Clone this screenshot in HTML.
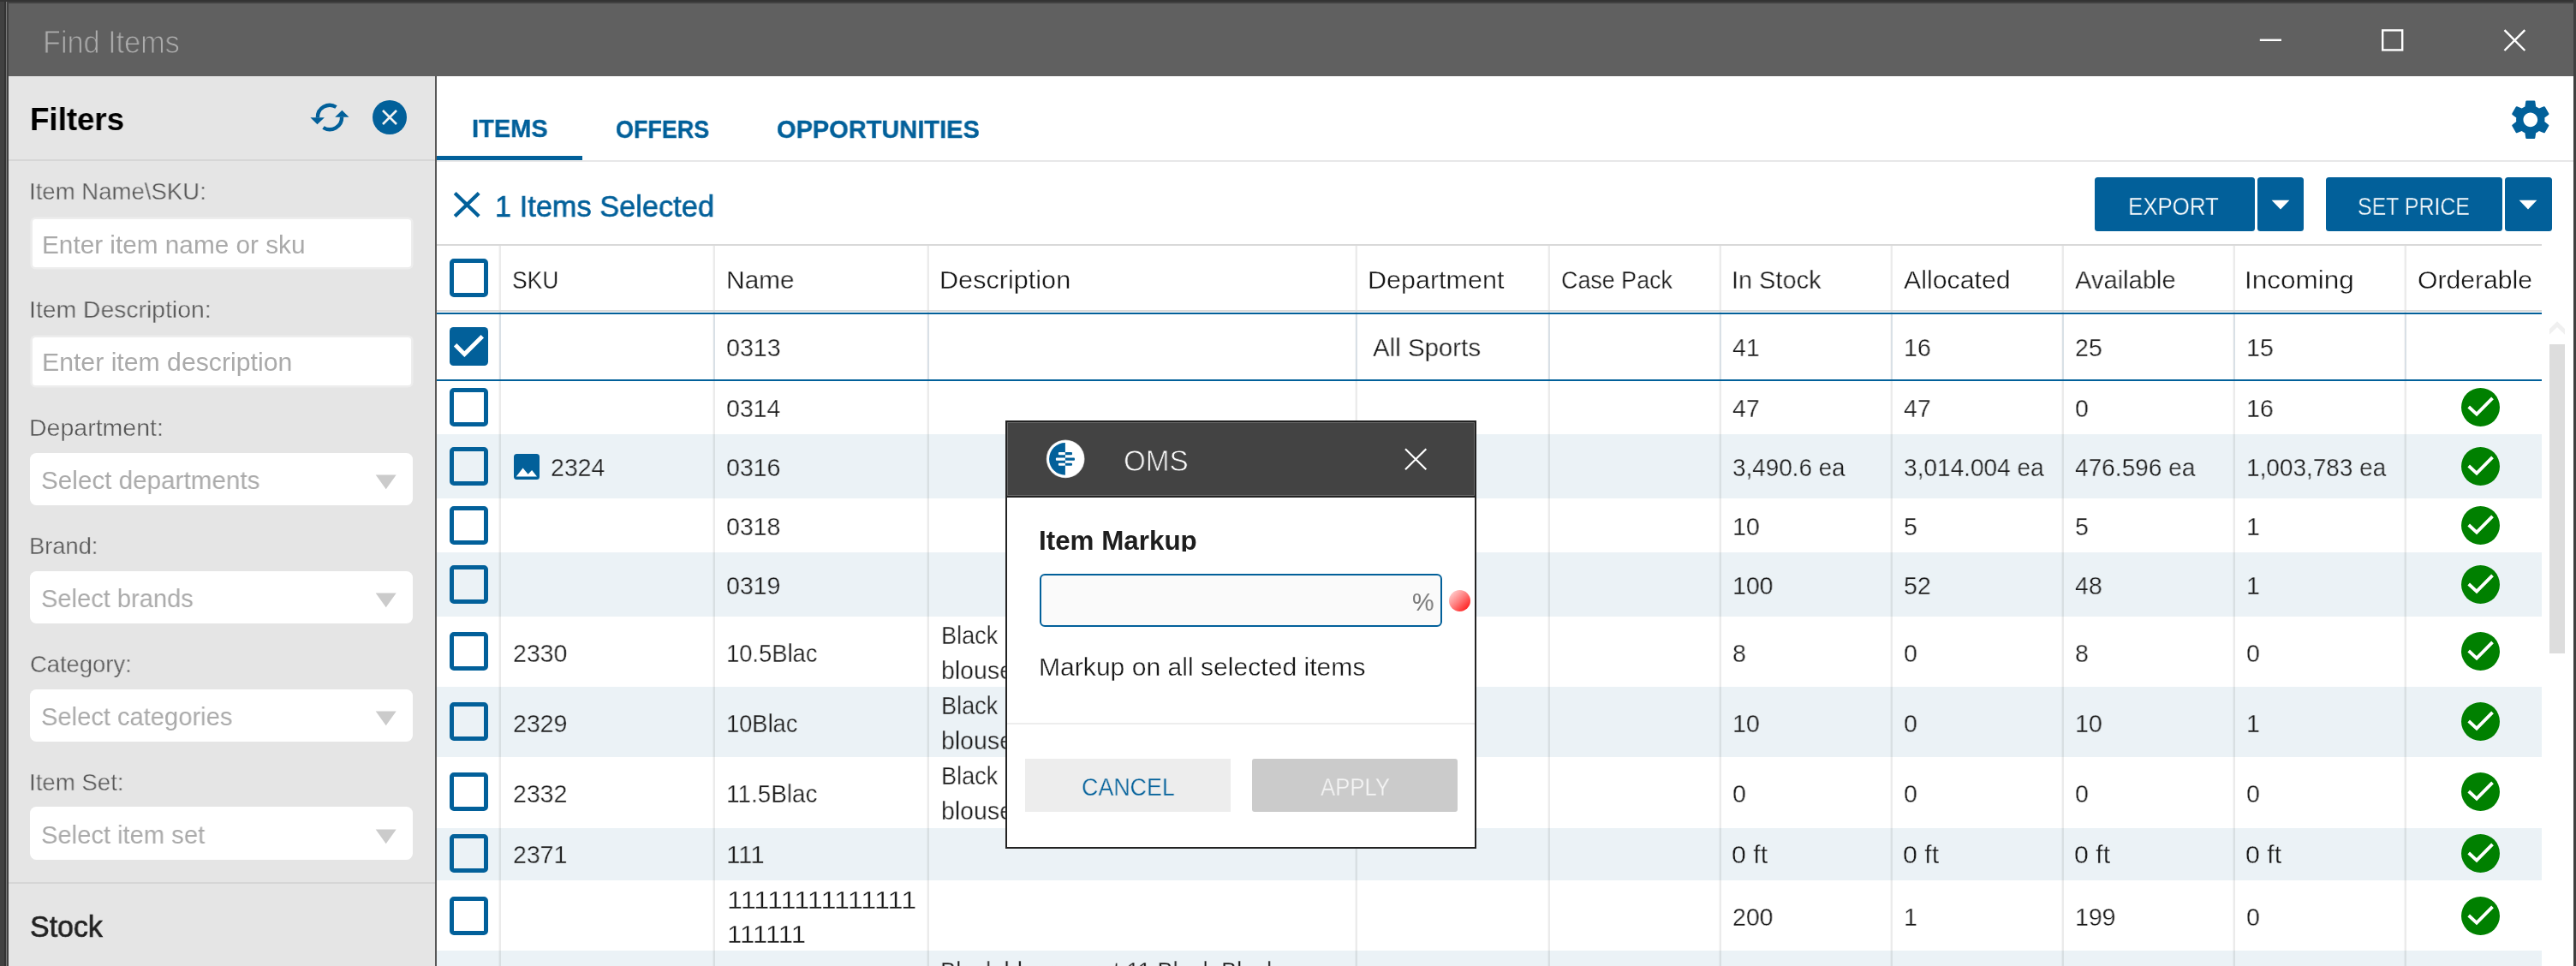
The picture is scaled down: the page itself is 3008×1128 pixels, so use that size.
<!DOCTYPE html>
<html><head><meta charset="utf-8"><title>Find Items</title>
<style>
html,body{margin:0;padding:0}
html{background:#414141}
body{width:3008px;height:1128px;position:relative;overflow:hidden;background:#414141;font-family:"Liberation Sans",sans-serif}
.b{position:absolute;display:block}
.t{position:absolute;white-space:pre;transform-origin:0 0;will-change:transform;font-family:"Liberation Sans",sans-serif}
#w{position:absolute;left:0;top:0;width:3008px;height:1128px;overflow:hidden;background:#414141}
</style></head><body>
<div id="w">
<div class="b" style="left:0.0px;top:0.0px;width:3008.0px;height:2.0px;background:#333;"></div>
<div class="b" style="left:5.0px;top:0.0px;width:2.0px;height:1128.0px;background:#333;"></div>
<div class="b" style="left:7.0px;top:2.0px;width:1.3px;height:1126.0px;background:#7a7a7a;"></div>
<div class="b" style="left:3005.0px;top:0.0px;width:3.0px;height:1128.0px;background:#404040;"></div>
<div class="b" style="left:10.0px;top:4.0px;width:2995.0px;height:85.0px;background:#606060;"></div>
<div class="b" style="left:10.0px;top:89.0px;width:498.0px;height:1039.0px;background:#e5e5e5;"></div>
<div class="b" style="left:508.0px;top:89.0px;width:2.0px;height:1039.0px;background:#585858;"></div>
<div class="b" style="left:510.0px;top:89.0px;width:2495.0px;height:1039.0px;background:#fff;"></div>
<svg class="b" style="left:2630px;top:25px" width="330" height="45" viewBox="2630 25 330 45"><g stroke="#fff" stroke-width="2.4" fill="none"><path d="M2638.8 46.8H2664"/><rect x="2782.2" y="35.4" width="23" height="23"/><path d="M2924.5 35.2L2948.3 59M2948.3 35.2L2924.5 59"/></g></svg>
<div class="b" style="left:10.0px;top:186.0px;width:498.0px;height:2.0px;background:#d6d6d6;"></div>
<div class="b" style="left:10.0px;top:1030.0px;width:498.0px;height:2.0px;background:#d6d6d6;"></div>
<div class="b" style="left:37.6px;top:255.7px;width:442.7px;height:56.6px;background:#fff;border-radius:3.5px;box-shadow:0 0 0 2.6px #ededed;"></div>
<div class="b" style="left:37.6px;top:393.7px;width:442.7px;height:56.6px;background:#fff;border-radius:3.5px;box-shadow:0 0 0 2.6px #ededed;"></div>
<div class="b" style="left:35.0px;top:528.6px;width:447.0px;height:61.9px;background:#fff;border-radius:7.5px;"></div>
<svg class="b" style="left:438px;top:554.0px" width="26" height="18" viewBox="0 0 26 18"><path d="M0.7 0.5H24.7L12.7 17.3Z" fill="#cbcbcb"/></svg>
<div class="b" style="left:35.0px;top:666.6px;width:447.0px;height:61.9px;background:#fff;border-radius:7.5px;"></div>
<svg class="b" style="left:438px;top:692.0px" width="26" height="18" viewBox="0 0 26 18"><path d="M0.7 0.5H24.7L12.7 17.3Z" fill="#cbcbcb"/></svg>
<div class="b" style="left:35.0px;top:804.6px;width:447.0px;height:61.9px;background:#fff;border-radius:7.5px;"></div>
<svg class="b" style="left:438px;top:830.0px" width="26" height="18" viewBox="0 0 26 18"><path d="M0.7 0.5H24.7L12.7 17.3Z" fill="#cbcbcb"/></svg>
<div class="b" style="left:35.0px;top:942.1px;width:447.0px;height:61.9px;background:#fff;border-radius:7.5px;"></div>
<svg class="b" style="left:438px;top:967.5px" width="26" height="18" viewBox="0 0 26 18"><path d="M0.7 0.5H24.7L12.7 17.3Z" fill="#cbcbcb"/></svg>
<svg class="b" style="left:360px;top:116px" width="52" height="42" viewBox="0 0 52 42"><g fill="none" stroke="#02609a" stroke-width="4.4"><path d="M10.9 21.4A14.1 14.1 0 0 1 32.5 9.0"/><path d="M39.1 20.6A14.1 14.1 0 0 1 17.5 33.0"/></g><path d="M2.4 21.2H18.9L10.5 29.3Z M31.2 20.7H47.5L39.4 12.8Z" fill="#02609a"/></svg>
<svg class="b" style="left:435px;top:117px" width="40" height="40" viewBox="0 0 40 40"><circle cx="20" cy="20" r="20" fill="#02609a"/><path d="M12 12L28 28M28 12L12 28" stroke="#f2f2f2" stroke-width="2.6"/></svg>
<div class="b" style="left:510.0px;top:182.0px;width:170.0px;height:5.0px;background:#02609a;"></div>
<div class="b" style="left:510.0px;top:187.0px;width:2495.0px;height:2.0px;background:#e7e7e8;"></div>
<svg class="b" style="left:528px;top:222px" width="34" height="34" viewBox="0 0 34 34"><path d="M3.2 3.4L31.2 30.4M31.2 3.4L3.2 30.4" stroke="#02609a" stroke-width="4.2"/></svg>
<div class="b" style="left:2445.5px;top:207.0px;width:187.5px;height:62.8px;background:#02609a;border-radius:3.5px;"></div>
<div class="b" style="left:2635.5px;top:207.0px;width:54.8px;height:62.8px;background:#02609a;border-radius:3.5px;"></div>
<div class="b" style="left:2715.5px;top:207.0px;width:206.5px;height:62.8px;background:#02609a;border-radius:3.5px;"></div>
<div class="b" style="left:2925.0px;top:207.0px;width:55.0px;height:62.8px;background:#02609a;border-radius:3.5px;"></div>
<svg class="b" style="left:2652.0px;top:233px" width="22" height="12" viewBox="0 0 22 12"><path d="M0.6 0.8H21.4L11 11.4Z" fill="#fff"/></svg>
<svg class="b" style="left:2941.2px;top:233px" width="22" height="12" viewBox="0 0 22 12"><path d="M0.6 0.8H21.4L11 11.4Z" fill="#fff"/></svg>
<svg class="b" style="left:2927.4px;top:111.8px" width="55.6" height="55.6" viewBox="0 0 24 24"><path fill="#02609a" d="M19.14 12.94c.04-.3.06-.61.06-.94 0-.32-.02-.64-.07-.94l2.03-1.58c.18-.14.23-.41.12-.61l-1.92-3.32c-.12-.22-.37-.29-.59-.22l-2.39.96c-.5-.38-1.03-.7-1.62-.94l-.36-2.54c-.04-.24-.24-.41-.48-.41h-3.84c-.24 0-.43.17-.47.41l-.36 2.54c-.59.24-1.13.57-1.62.94l-2.39-.96c-.22-.08-.47 0-.59.22L2.74 8.87c-.12.21-.08.47.12.61l2.03 1.58c-.05.3-.09.63-.09.94s.02.64.07.94l-2.03 1.58c-.18.14-.23.41-.12.61l1.92 3.32c.12.22.37.29.59.22l2.39-.96c.5.38 1.03.7 1.62.94l.36 2.54c.05.24.24.41.48.41h3.84c.24 0 .44-.17.47-.41l.36-2.54c.59-.24 1.13-.56 1.62-.94l2.39.96c.22.08.47 0 .59-.22l1.92-3.32c.12-.22.07-.47-.12-.61l-2.01-1.58zM12 15.6c-1.98 0-3.6-1.62-3.6-3.6s1.62-3.6 3.6-3.6 3.6 1.62 3.6 3.6-1.62 3.6-3.6 3.6z"/></svg>
<div class="b" style="left:510.0px;top:507.0px;width:2457.5px;height:75.0px;background:#ebf2f6;"></div>
<div class="b" style="left:510.0px;top:645.0px;width:2457.5px;height:75.0px;background:#ebf2f6;"></div>
<div class="b" style="left:510.0px;top:802.0px;width:2457.5px;height:82.0px;background:#ebf2f6;"></div>
<div class="b" style="left:510.0px;top:966.5px;width:2457.5px;height:61.0px;background:#ebf2f6;"></div>
<div class="b" style="left:510.0px;top:1110.0px;width:2457.5px;height:18.0px;background:#ebf2f6;"></div>
<div class="b" style="left:510.0px;top:285.0px;width:2457.5px;height:2.0px;background:#d9d9d9;"></div>
<div class="b" style="left:582.0px;top:287.0px;width:1.0px;height:841.0px;background:rgba(0,0,0,0.03);"></div>
<div class="b" style="left:583.0px;top:287.0px;width:2.0px;height:80.0px;background:rgba(0,0,0,0.078);"></div>
<div class="b" style="left:583.0px;top:367.0px;width:2.0px;height:76.0px;background:#d9e0e6;"></div>
<div class="b" style="left:583.0px;top:445.0px;width:2.0px;height:683.0px;background:rgba(0,0,0,0.078);"></div>
<div class="b" style="left:832.0px;top:287.0px;width:1.0px;height:841.0px;background:rgba(0,0,0,0.03);"></div>
<div class="b" style="left:833.0px;top:287.0px;width:2.0px;height:80.0px;background:rgba(0,0,0,0.078);"></div>
<div class="b" style="left:833.0px;top:367.0px;width:2.0px;height:76.0px;background:#d9e0e6;"></div>
<div class="b" style="left:833.0px;top:445.0px;width:2.0px;height:683.0px;background:rgba(0,0,0,0.078);"></div>
<div class="b" style="left:1082.0px;top:287.0px;width:1.0px;height:841.0px;background:rgba(0,0,0,0.03);"></div>
<div class="b" style="left:1083.0px;top:287.0px;width:2.0px;height:80.0px;background:rgba(0,0,0,0.078);"></div>
<div class="b" style="left:1083.0px;top:367.0px;width:2.0px;height:76.0px;background:#d9e0e6;"></div>
<div class="b" style="left:1083.0px;top:445.0px;width:2.0px;height:683.0px;background:rgba(0,0,0,0.078);"></div>
<div class="b" style="left:1582.0px;top:287.0px;width:1.0px;height:841.0px;background:rgba(0,0,0,0.03);"></div>
<div class="b" style="left:1583.0px;top:287.0px;width:2.0px;height:80.0px;background:rgba(0,0,0,0.078);"></div>
<div class="b" style="left:1583.0px;top:367.0px;width:2.0px;height:76.0px;background:#d9e0e6;"></div>
<div class="b" style="left:1583.0px;top:445.0px;width:2.0px;height:683.0px;background:rgba(0,0,0,0.078);"></div>
<div class="b" style="left:1807.0px;top:287.0px;width:1.0px;height:841.0px;background:rgba(0,0,0,0.03);"></div>
<div class="b" style="left:1808.0px;top:287.0px;width:2.0px;height:80.0px;background:rgba(0,0,0,0.078);"></div>
<div class="b" style="left:1808.0px;top:367.0px;width:2.0px;height:76.0px;background:#d9e0e6;"></div>
<div class="b" style="left:1808.0px;top:445.0px;width:2.0px;height:683.0px;background:rgba(0,0,0,0.078);"></div>
<div class="b" style="left:2007.0px;top:287.0px;width:1.0px;height:841.0px;background:rgba(0,0,0,0.03);"></div>
<div class="b" style="left:2008.0px;top:287.0px;width:2.0px;height:80.0px;background:rgba(0,0,0,0.078);"></div>
<div class="b" style="left:2008.0px;top:367.0px;width:2.0px;height:76.0px;background:#d9e0e6;"></div>
<div class="b" style="left:2008.0px;top:445.0px;width:2.0px;height:683.0px;background:rgba(0,0,0,0.078);"></div>
<div class="b" style="left:2207.0px;top:287.0px;width:1.0px;height:841.0px;background:rgba(0,0,0,0.03);"></div>
<div class="b" style="left:2208.0px;top:287.0px;width:2.0px;height:80.0px;background:rgba(0,0,0,0.078);"></div>
<div class="b" style="left:2208.0px;top:367.0px;width:2.0px;height:76.0px;background:#d9e0e6;"></div>
<div class="b" style="left:2208.0px;top:445.0px;width:2.0px;height:683.0px;background:rgba(0,0,0,0.078);"></div>
<div class="b" style="left:2407.0px;top:287.0px;width:1.0px;height:841.0px;background:rgba(0,0,0,0.03);"></div>
<div class="b" style="left:2408.0px;top:287.0px;width:2.0px;height:80.0px;background:rgba(0,0,0,0.078);"></div>
<div class="b" style="left:2408.0px;top:367.0px;width:2.0px;height:76.0px;background:#d9e0e6;"></div>
<div class="b" style="left:2408.0px;top:445.0px;width:2.0px;height:683.0px;background:rgba(0,0,0,0.078);"></div>
<div class="b" style="left:2607.0px;top:287.0px;width:1.0px;height:841.0px;background:rgba(0,0,0,0.03);"></div>
<div class="b" style="left:2608.0px;top:287.0px;width:2.0px;height:80.0px;background:rgba(0,0,0,0.078);"></div>
<div class="b" style="left:2608.0px;top:367.0px;width:2.0px;height:76.0px;background:#d9e0e6;"></div>
<div class="b" style="left:2608.0px;top:445.0px;width:2.0px;height:683.0px;background:rgba(0,0,0,0.078);"></div>
<div class="b" style="left:2807.0px;top:287.0px;width:1.0px;height:841.0px;background:rgba(0,0,0,0.03);"></div>
<div class="b" style="left:2808.0px;top:287.0px;width:2.0px;height:80.0px;background:rgba(0,0,0,0.078);"></div>
<div class="b" style="left:2808.0px;top:367.0px;width:2.0px;height:76.0px;background:#d9e0e6;"></div>
<div class="b" style="left:2808.0px;top:445.0px;width:2.0px;height:683.0px;background:rgba(0,0,0,0.078);"></div>
<div class="b" style="left:510.0px;top:362.0px;width:2457.5px;height:2.0px;background:#d9d9d9;"></div>
<div class="b" style="left:510.0px;top:365.0px;width:2457.5px;height:2.0px;background:#02609a;"></div>
<div class="b" style="left:510.0px;top:443.0px;width:2457.5px;height:2.0px;background:#02609a;"></div>
<div class="b" style="left:525px;top:302.0px;width:35px;height:35px;border:5px solid #02609a;border-radius:5px"></div>
<svg class="b" style="left:525px;top:381.9px" width="45" height="45" viewBox="0 0 45 45"><rect width="45" height="45" rx="4.5" fill="#02609a"/><path d="M6.6 20.7L17.4 31.6L38.3 10.8" fill="none" stroke="#fff" stroke-width="4.9"/></svg>
<div class="b" style="left:525px;top:453.1px;width:35px;height:35px;border:5px solid #02609a;border-radius:5px"></div>
<svg class="b" style="left:2873.8px;top:453.1px" width="45" height="45" viewBox="0 0 45 45"><circle cx="22.5" cy="22.5" r="22.5" fill="#008000"/><path d="M8.7 22L18 30.7L36.5 11.9" fill="none" stroke="#fff" stroke-width="3.8"/></svg>
<div class="b" style="left:525px;top:522.3px;width:35px;height:35px;border:5px solid #02609a;border-radius:5px"></div>
<svg class="b" style="left:2873.8px;top:522.3px" width="45" height="45" viewBox="0 0 45 45"><circle cx="22.5" cy="22.5" r="22.5" fill="#008000"/><path d="M8.7 22L18 30.7L36.5 11.9" fill="none" stroke="#fff" stroke-width="3.8"/></svg>
<svg class="b" style="left:600px;top:529.8px" width="30" height="30" viewBox="0 0 30 30"><rect width="30" height="30" rx="3.5" fill="#02609a"/><path d="M2.8 26.6L10.6 16.4L16.6 23.7L21.1 19L27 26.6Z" fill="#fff"/></svg>
<div class="b" style="left:525px;top:591.0px;width:35px;height:35px;border:5px solid #02609a;border-radius:5px"></div>
<svg class="b" style="left:2873.8px;top:591.0px" width="45" height="45" viewBox="0 0 45 45"><circle cx="22.5" cy="22.5" r="22.5" fill="#008000"/><path d="M8.7 22L18 30.7L36.5 11.9" fill="none" stroke="#fff" stroke-width="3.8"/></svg>
<div class="b" style="left:525px;top:659.8px;width:35px;height:35px;border:5px solid #02609a;border-radius:5px"></div>
<svg class="b" style="left:2873.8px;top:659.8px" width="45" height="45" viewBox="0 0 45 45"><circle cx="22.5" cy="22.5" r="22.5" fill="#008000"/><path d="M8.7 22L18 30.7L36.5 11.9" fill="none" stroke="#fff" stroke-width="3.8"/></svg>
<div class="b" style="left:525px;top:738.0px;width:35px;height:35px;border:5px solid #02609a;border-radius:5px"></div>
<svg class="b" style="left:2873.8px;top:738.0px" width="45" height="45" viewBox="0 0 45 45"><circle cx="22.5" cy="22.5" r="22.5" fill="#008000"/><path d="M8.7 22L18 30.7L36.5 11.9" fill="none" stroke="#fff" stroke-width="3.8"/></svg>
<div class="b" style="left:525px;top:820.1px;width:35px;height:35px;border:5px solid #02609a;border-radius:5px"></div>
<svg class="b" style="left:2873.8px;top:820.1px" width="45" height="45" viewBox="0 0 45 45"><circle cx="22.5" cy="22.5" r="22.5" fill="#008000"/><path d="M8.7 22L18 30.7L36.5 11.9" fill="none" stroke="#fff" stroke-width="3.8"/></svg>
<div class="b" style="left:525px;top:902.1px;width:35px;height:35px;border:5px solid #02609a;border-radius:5px"></div>
<svg class="b" style="left:2873.8px;top:902.1px" width="45" height="45" viewBox="0 0 45 45"><circle cx="22.5" cy="22.5" r="22.5" fill="#008000"/><path d="M8.7 22L18 30.7L36.5 11.9" fill="none" stroke="#fff" stroke-width="3.8"/></svg>
<div class="b" style="left:525px;top:974.1px;width:35px;height:35px;border:5px solid #02609a;border-radius:5px"></div>
<svg class="b" style="left:2873.8px;top:974.1px" width="45" height="45" viewBox="0 0 45 45"><circle cx="22.5" cy="22.5" r="22.5" fill="#008000"/><path d="M8.7 22L18 30.7L36.5 11.9" fill="none" stroke="#fff" stroke-width="3.8"/></svg>
<div class="b" style="left:525px;top:1046.6px;width:35px;height:35px;border:5px solid #02609a;border-radius:5px"></div>
<svg class="b" style="left:2873.8px;top:1046.6px" width="45" height="45" viewBox="0 0 45 45"><circle cx="22.5" cy="22.5" r="22.5" fill="#008000"/><path d="M8.7 22L18 30.7L36.5 11.9" fill="none" stroke="#fff" stroke-width="3.8"/></svg>
<div class="b" style="left:2977.0px;top:402.0px;width:18.0px;height:360.5px;background:#dddddd;"></div>
<svg class="b" style="left:2977px;top:374px" width="18" height="18" viewBox="0 0 18 18"><path d="M-3 16.2L9 4.8L21 16.2" fill="none" stroke="#f0f0f0" stroke-width="5"/></svg>
<span class="t" style="left:50.10px;top:31.53px;font-size:36.00px;line-height:36.00px;transform:scaleX(0.9512);color:#adadad;-webkit-text-stroke:0.9px #606060;">Find Items</span>
<span class="t" style="left:35.02px;top:121.18px;font-size:37.00px;line-height:37.00px;transform:scaleX(0.9912);color:#000;font-weight:bold;">Filters</span>
<span class="t" style="left:34.07px;top:208.87px;font-size:28.50px;line-height:28.50px;transform:scaleX(0.9672);color:#575757;-webkit-text-stroke:0.35px #e5e5e5;">Item Name\SKU:</span>
<span class="t" style="left:49.00px;top:270.86px;font-size:29.70px;line-height:29.70px;transform:scaleX(1.0020);color:#aaaaaa;">Enter item name or sku</span>
<span class="t" style="left:34.01px;top:346.87px;font-size:28.50px;line-height:28.50px;transform:scaleX(0.9943);color:#575757;-webkit-text-stroke:0.35px #e5e5e5;">Item Description:</span>
<span class="t" style="left:48.96px;top:408.36px;font-size:29.70px;line-height:29.70px;transform:scaleX(1.0180);color:#aaaaaa;">Enter item description</span>
<span class="t" style="left:34.00px;top:484.87px;font-size:28.50px;line-height:28.50px;transform:scaleX(1.0006);color:#575757;-webkit-text-stroke:0.35px #e5e5e5;">Department:</span>
<span class="t" style="left:47.50px;top:545.86px;font-size:29.70px;line-height:29.70px;transform:scaleX(0.9983);color:#aaaaaa;">Select departments</span>
<span class="t" style="left:34.09px;top:622.87px;font-size:28.50px;line-height:28.50px;transform:scaleX(0.9569);color:#575757;-webkit-text-stroke:0.35px #e5e5e5;">Brand:</span>
<span class="t" style="left:47.52px;top:683.86px;font-size:29.70px;line-height:29.70px;transform:scaleX(0.9789);color:#aaaaaa;">Select brands</span>
<span class="t" style="left:35.04px;top:760.87px;font-size:28.50px;line-height:28.50px;transform:scaleX(0.9599);color:#575757;-webkit-text-stroke:0.35px #e5e5e5;">Category:</span>
<span class="t" style="left:47.52px;top:821.86px;font-size:29.70px;line-height:29.70px;transform:scaleX(0.9806);color:#aaaaaa;">Select categories</span>
<span class="t" style="left:34.06px;top:898.87px;font-size:28.50px;line-height:28.50px;transform:scaleX(0.9698);color:#575757;-webkit-text-stroke:0.35px #e5e5e5;">Item Set:</span>
<span class="t" style="left:47.52px;top:960.36px;font-size:29.70px;line-height:29.70px;transform:scaleX(0.9818);color:#aaaaaa;">Select item set</span>
<span class="t" style="left:35.44px;top:1065.45px;font-size:35.50px;line-height:35.50px;transform:scaleX(0.9553);color:#222;-webkit-text-stroke:0.7px #222;">Stock</span>
<span class="t" style="left:551.02px;top:135.03px;font-size:29.50px;line-height:29.50px;transform:scaleX(0.9834);color:#02609a;font-weight:bold;-webkit-text-stroke:0.35px #02609a;">ITEMS</span>
<span class="t" style="left:719.09px;top:136.03px;font-size:29.50px;line-height:29.50px;transform:scaleX(0.9121);color:#02609a;font-weight:bold;-webkit-text-stroke:0.35px #02609a;">OFFERS</span>
<span class="t" style="left:907.42px;top:136.03px;font-size:29.50px;line-height:29.50px;transform:scaleX(0.9830);color:#02609a;font-weight:bold;-webkit-text-stroke:0.35px #02609a;">OPPORTUNITIES</span>
<span class="t" style="left:578.44px;top:222.87px;font-size:35.00px;line-height:35.00px;transform:scaleX(0.9820);color:#02609a;-webkit-text-stroke:0.6px #02609a;">1 Items Selected</span>
<span class="t" style="left:2485.25px;top:226.03px;font-size:29.50px;line-height:29.50px;transform:scaleX(0.8758);color:#fff;-webkit-text-stroke:0.35px #02609a;">EXPORT</span>
<span class="t" style="left:2753.16px;top:226.03px;font-size:29.50px;line-height:29.50px;transform:scaleX(0.8439);color:#fff;-webkit-text-stroke:0.35px #02609a;">SET PRICE</span>
<span class="t" style="left:598.12px;top:311.61px;font-size:30.00px;line-height:30.00px;transform:scaleX(0.8811);color:#181818;-webkit-text-stroke:0.35px #fff;">SKU</span>
<span class="t" style="left:847.61px;top:311.61px;font-size:30.00px;line-height:30.00px;transform:scaleX(0.9943);color:#181818;-webkit-text-stroke:0.35px #fff;">Name</span>
<span class="t" style="left:1096.96px;top:311.61px;font-size:30.00px;line-height:30.00px;transform:scaleX(1.0207);color:#181818;-webkit-text-stroke:0.35px #fff;">Description</span>
<span class="t" style="left:1596.97px;top:311.61px;font-size:30.00px;line-height:30.00px;transform:scaleX(1.0167);color:#181818;-webkit-text-stroke:0.35px #fff;">Department</span>
<span class="t" style="left:1823.10px;top:311.61px;font-size:30.00px;line-height:30.00px;transform:scaleX(0.8962);color:#181818;-webkit-text-stroke:0.35px #fff;">Case Pack</span>
<span class="t" style="left:2021.57px;top:311.61px;font-size:30.00px;line-height:30.00px;transform:scaleX(0.9638);color:#181818;-webkit-text-stroke:0.35px #fff;">In Stock</span>
<span class="t" style="left:2223.00px;top:311.61px;font-size:30.00px;line-height:30.00px;transform:scaleX(1.0104);color:#181818;-webkit-text-stroke:0.35px #fff;">Allocated</span>
<span class="t" style="left:2423.00px;top:311.61px;font-size:30.00px;line-height:30.00px;transform:scaleX(0.9708);color:#181818;-webkit-text-stroke:0.35px #fff;">Available</span>
<span class="t" style="left:2620.90px;top:311.61px;font-size:30.00px;line-height:30.00px;transform:scaleX(1.0505);color:#181818;-webkit-text-stroke:0.35px #fff;">Incoming</span>
<span class="t" style="left:2822.50px;top:311.61px;font-size:30.00px;line-height:30.00px;transform:scaleX(1.0044);color:#181818;-webkit-text-stroke:0.35px #fff;">Orderable</span>
<span class="t" style="left:847.65px;top:391.41px;font-size:30.00px;line-height:30.00px;transform:scaleX(0.9546);color:#181818;-webkit-text-stroke:0.35px #fff;">0313</span>
<span class="t" style="left:1603.00px;top:391.41px;font-size:30.00px;line-height:30.00px;transform:scaleX(0.9813);color:#181818;-webkit-text-stroke:0.35px #fff;">All Sports</span>
<span class="t" style="left:2022.70px;top:391.41px;font-size:30.00px;line-height:30.00px;transform:scaleX(0.9500);color:#181818;-webkit-text-stroke:0.35px #fff;">41</span>
<span class="t" style="left:2222.80px;top:391.41px;font-size:30.00px;line-height:30.00px;transform:scaleX(0.9500);color:#181818;-webkit-text-stroke:0.35px #fff;">16</span>
<span class="t" style="left:2422.55px;top:391.41px;font-size:30.00px;line-height:30.00px;transform:scaleX(0.9500);color:#181818;-webkit-text-stroke:0.35px #fff;">25</span>
<span class="t" style="left:2622.80px;top:391.41px;font-size:30.00px;line-height:30.00px;transform:scaleX(0.9500);color:#181818;-webkit-text-stroke:0.35px #fff;">15</span>
<span class="t" style="left:847.65px;top:462.21px;font-size:30.00px;line-height:30.00px;transform:scaleX(0.9500);color:#181818;-webkit-text-stroke:0.35px #fff;">0314</span>
<span class="t" style="left:2022.70px;top:462.21px;font-size:30.00px;line-height:30.00px;transform:scaleX(0.9500);color:#181818;-webkit-text-stroke:0.35px #fff;">47</span>
<span class="t" style="left:2222.70px;top:462.21px;font-size:30.00px;line-height:30.00px;transform:scaleX(0.9500);color:#181818;-webkit-text-stroke:0.35px #fff;">47</span>
<span class="t" style="left:2422.55px;top:462.21px;font-size:30.00px;line-height:30.00px;transform:scaleX(0.9500);color:#181818;-webkit-text-stroke:0.35px #fff;">0</span>
<span class="t" style="left:2622.80px;top:462.21px;font-size:30.00px;line-height:30.00px;transform:scaleX(0.9500);color:#181818;-webkit-text-stroke:0.35px #fff;">16</span>
<span class="t" style="left:643.05px;top:531.21px;font-size:30.00px;line-height:30.00px;transform:scaleX(0.9500);color:#181818;-webkit-text-stroke:0.35px #ebf2f6;">2324</span>
<span class="t" style="left:847.65px;top:531.21px;font-size:30.00px;line-height:30.00px;transform:scaleX(0.9500);color:#181818;-webkit-text-stroke:0.35px #ebf2f6;">0316</span>
<span class="t" style="left:2022.57px;top:531.21px;font-size:30.00px;line-height:30.00px;transform:scaleX(0.9283);color:#181818;-webkit-text-stroke:0.35px #ebf2f6;">3,490.6 ea</span>
<span class="t" style="left:2222.57px;top:531.21px;font-size:30.00px;line-height:30.00px;transform:scaleX(0.9342);color:#181818;-webkit-text-stroke:0.35px #ebf2f6;">3,014.004 ea</span>
<span class="t" style="left:2422.70px;top:531.21px;font-size:30.00px;line-height:30.00px;transform:scaleX(0.9351);color:#181818;-webkit-text-stroke:0.35px #ebf2f6;">476.596 ea</span>
<span class="t" style="left:2622.84px;top:531.21px;font-size:30.00px;line-height:30.00px;transform:scaleX(0.9321);color:#181818;-webkit-text-stroke:0.35px #ebf2f6;">1,003,783 ea</span>
<span class="t" style="left:847.65px;top:600.00px;font-size:30.00px;line-height:30.00px;transform:scaleX(0.9500);color:#181818;-webkit-text-stroke:0.35px #fff;">0318</span>
<span class="t" style="left:2022.80px;top:600.00px;font-size:30.00px;line-height:30.00px;transform:scaleX(0.9500);color:#181818;-webkit-text-stroke:0.35px #fff;">10</span>
<span class="t" style="left:2222.55px;top:600.00px;font-size:30.00px;line-height:30.00px;transform:scaleX(0.9500);color:#181818;-webkit-text-stroke:0.35px #fff;">5</span>
<span class="t" style="left:2422.55px;top:600.00px;font-size:30.00px;line-height:30.00px;transform:scaleX(0.9500);color:#181818;-webkit-text-stroke:0.35px #fff;">5</span>
<span class="t" style="left:2622.80px;top:600.00px;font-size:30.00px;line-height:30.00px;transform:scaleX(0.9500);color:#181818;-webkit-text-stroke:0.35px #fff;">1</span>
<span class="t" style="left:847.65px;top:669.40px;font-size:30.00px;line-height:30.00px;transform:scaleX(0.9500);color:#181818;-webkit-text-stroke:0.35px #ebf2f6;">0319</span>
<span class="t" style="left:2022.80px;top:669.40px;font-size:30.00px;line-height:30.00px;transform:scaleX(0.9500);color:#181818;-webkit-text-stroke:0.35px #ebf2f6;">100</span>
<span class="t" style="left:2222.55px;top:669.40px;font-size:30.00px;line-height:30.00px;transform:scaleX(0.9500);color:#181818;-webkit-text-stroke:0.35px #ebf2f6;">52</span>
<span class="t" style="left:2422.70px;top:669.40px;font-size:30.00px;line-height:30.00px;transform:scaleX(0.9500);color:#181818;-webkit-text-stroke:0.35px #ebf2f6;">48</span>
<span class="t" style="left:2622.80px;top:669.40px;font-size:30.00px;line-height:30.00px;transform:scaleX(0.9500);color:#181818;-webkit-text-stroke:0.35px #ebf2f6;">1</span>
<span class="t" style="left:598.55px;top:747.61px;font-size:30.00px;line-height:30.00px;transform:scaleX(0.9500);color:#181818;-webkit-text-stroke:0.35px #fff;">2330</span>
<span class="t" style="left:848.08px;top:747.61px;font-size:30.00px;line-height:30.00px;transform:scaleX(0.9116);color:#181818;-webkit-text-stroke:0.35px #fff;">10.5Blac</span>
<span class="t" style="left:1098.59px;top:727.00px;font-size:30.00px;line-height:30.00px;transform:scaleX(0.9038);color:#181818;-webkit-text-stroke:0.35px #fff;">Black</span>
<span class="t" style="left:1099.25px;top:767.50px;font-size:30.00px;line-height:30.00px;transform:scaleX(0.9500);color:#181818;-webkit-text-stroke:0.35px #fff;">blouse</span>
<span class="t" style="left:2022.55px;top:747.61px;font-size:30.00px;line-height:30.00px;transform:scaleX(0.9500);color:#181818;-webkit-text-stroke:0.35px #fff;">8</span>
<span class="t" style="left:2222.55px;top:747.61px;font-size:30.00px;line-height:30.00px;transform:scaleX(0.9500);color:#181818;-webkit-text-stroke:0.35px #fff;">0</span>
<span class="t" style="left:2422.55px;top:747.61px;font-size:30.00px;line-height:30.00px;transform:scaleX(0.9500);color:#181818;-webkit-text-stroke:0.35px #fff;">8</span>
<span class="t" style="left:2622.55px;top:747.61px;font-size:30.00px;line-height:30.00px;transform:scaleX(0.9500);color:#181818;-webkit-text-stroke:0.35px #fff;">0</span>
<span class="t" style="left:598.55px;top:829.61px;font-size:30.00px;line-height:30.00px;transform:scaleX(0.9500);color:#181818;-webkit-text-stroke:0.35px #ebf2f6;">2329</span>
<span class="t" style="left:848.08px;top:829.61px;font-size:30.00px;line-height:30.00px;transform:scaleX(0.9083);color:#181818;-webkit-text-stroke:0.35px #ebf2f6;">10Blac</span>
<span class="t" style="left:1098.59px;top:809.00px;font-size:30.00px;line-height:30.00px;transform:scaleX(0.9038);color:#181818;-webkit-text-stroke:0.35px #ebf2f6;">Black</span>
<span class="t" style="left:1099.25px;top:849.50px;font-size:30.00px;line-height:30.00px;transform:scaleX(0.9500);color:#181818;-webkit-text-stroke:0.35px #ebf2f6;">blouse</span>
<span class="t" style="left:2022.80px;top:829.61px;font-size:30.00px;line-height:30.00px;transform:scaleX(0.9500);color:#181818;-webkit-text-stroke:0.35px #ebf2f6;">10</span>
<span class="t" style="left:2222.55px;top:829.61px;font-size:30.00px;line-height:30.00px;transform:scaleX(0.9500);color:#181818;-webkit-text-stroke:0.35px #ebf2f6;">0</span>
<span class="t" style="left:2422.80px;top:829.61px;font-size:30.00px;line-height:30.00px;transform:scaleX(0.9500);color:#181818;-webkit-text-stroke:0.35px #ebf2f6;">10</span>
<span class="t" style="left:2622.80px;top:829.61px;font-size:30.00px;line-height:30.00px;transform:scaleX(0.9500);color:#181818;-webkit-text-stroke:0.35px #ebf2f6;">1</span>
<span class="t" style="left:598.55px;top:911.61px;font-size:30.00px;line-height:30.00px;transform:scaleX(0.9500);color:#181818;-webkit-text-stroke:0.35px #fff;">2332</span>
<span class="t" style="left:848.04px;top:911.61px;font-size:30.00px;line-height:30.00px;transform:scaleX(0.9296);color:#181818;-webkit-text-stroke:0.35px #fff;">11.5Blac</span>
<span class="t" style="left:1098.59px;top:891.00px;font-size:30.00px;line-height:30.00px;transform:scaleX(0.9038);color:#181818;-webkit-text-stroke:0.35px #fff;">Black</span>
<span class="t" style="left:1099.25px;top:931.50px;font-size:30.00px;line-height:30.00px;transform:scaleX(0.9500);color:#181818;-webkit-text-stroke:0.35px #fff;">blouse</span>
<span class="t" style="left:2022.55px;top:911.61px;font-size:30.00px;line-height:30.00px;transform:scaleX(0.9500);color:#181818;-webkit-text-stroke:0.35px #fff;">0</span>
<span class="t" style="left:2222.55px;top:911.61px;font-size:30.00px;line-height:30.00px;transform:scaleX(0.9500);color:#181818;-webkit-text-stroke:0.35px #fff;">0</span>
<span class="t" style="left:2422.55px;top:911.61px;font-size:30.00px;line-height:30.00px;transform:scaleX(0.9500);color:#181818;-webkit-text-stroke:0.35px #fff;">0</span>
<span class="t" style="left:2622.55px;top:911.61px;font-size:30.00px;line-height:30.00px;transform:scaleX(0.9500);color:#181818;-webkit-text-stroke:0.35px #fff;">0</span>
<span class="t" style="left:598.55px;top:983.11px;font-size:30.00px;line-height:30.00px;transform:scaleX(0.9500);color:#181818;-webkit-text-stroke:0.35px #ebf2f6;">2371</span>
<span class="t" style="left:847.95px;top:983.11px;font-size:30.00px;line-height:30.00px;transform:scaleX(0.9763);color:#181818;-webkit-text-stroke:0.35px #ebf2f6;">111</span>
<span class="t" style="left:2022.49px;top:983.11px;font-size:30.00px;line-height:30.00px;transform:scaleX(1.0108);color:#181818;-webkit-text-stroke:0.35px #ebf2f6;">0 ft</span>
<span class="t" style="left:2222.49px;top:983.11px;font-size:30.00px;line-height:30.00px;transform:scaleX(1.0108);color:#181818;-webkit-text-stroke:0.35px #ebf2f6;">0 ft</span>
<span class="t" style="left:2422.49px;top:983.11px;font-size:30.00px;line-height:30.00px;transform:scaleX(1.0108);color:#181818;-webkit-text-stroke:0.35px #ebf2f6;">0 ft</span>
<span class="t" style="left:2622.49px;top:983.11px;font-size:30.00px;line-height:30.00px;transform:scaleX(1.0108);color:#181818;-webkit-text-stroke:0.35px #ebf2f6;">0 ft</span>
<span class="t" style="left:848.54px;top:1035.61px;font-size:30.00px;line-height:30.00px;transform:scaleX(1.0809);color:#181818;-webkit-text-stroke:0.35px #fff;">11111111111111</span>
<span class="t" style="left:848.63px;top:1075.90px;font-size:30.00px;line-height:30.00px;transform:scaleX(1.0349);color:#181818;-webkit-text-stroke:0.35px #fff;">111111</span>
<span class="t" style="left:2022.55px;top:1056.11px;font-size:30.00px;line-height:30.00px;transform:scaleX(0.9500);color:#181818;-webkit-text-stroke:0.35px #fff;">200</span>
<span class="t" style="left:2222.80px;top:1056.11px;font-size:30.00px;line-height:30.00px;transform:scaleX(0.9500);color:#181818;-webkit-text-stroke:0.35px #fff;">1</span>
<span class="t" style="left:2422.80px;top:1056.11px;font-size:30.00px;line-height:30.00px;transform:scaleX(0.9500);color:#181818;-webkit-text-stroke:0.35px #fff;">199</span>
<span class="t" style="left:2622.55px;top:1056.11px;font-size:30.00px;line-height:30.00px;transform:scaleX(0.9500);color:#181818;-webkit-text-stroke:0.35px #fff;">0</span>
<span class="t" style="left:1097.98px;top:1118.61px;font-size:30.00px;line-height:30.00px;transform:scaleX(0.9116);color:#181818;-webkit-text-stroke:0.35px #ebf2f6;">Black blouse part 11 Black Black</span>
<div class="b" style="left:1174.0px;top:491.0px;width:550.0px;height:499.6px;background:#fff;box-sizing:border-box;border:2px solid #222;"></div>
<div class="b" style="left:1176.0px;top:493.0px;width:546.0px;height:86.2px;background:#434343;box-sizing:border-box;border:1px solid #6a6a6a;"></div>
<div class="b" style="left:1176.0px;top:579.2px;width:546.0px;height:1.8px;background:#222;"></div>
<div class="b" style="left:1176.0px;top:844.0px;width:546.0px;height:2.0px;background:#ededed;"></div>
<div class="b" style="left:1214.0px;top:670.0px;width:470.0px;height:61.6px;background:#fafafa;box-sizing:border-box;border:2.4px solid #02609a;border-radius:6px;"></div>
<div class="b" style="left:1196.6px;top:886.0px;width:240.0px;height:62.4px;background:#ededed;"></div>
<div class="b" style="left:1461.8px;top:886.0px;width:239.9px;height:62.4px;background:#cbcbcb;border-radius:3px;"></div>
<div class="b" style="left:1691.5px;top:688.5px;width:25.0px;height:25.0px;background:linear-gradient(135deg,#ffc6c6 14%,#ff7a7a 50%,#ff2020 88%);border-radius:50%;"></div>
<svg class="b" style="left:1638px;top:521px" width="30" height="30" viewBox="0 0 30 30"><path d="M3 3.3L27.3 27.3M27.3 3.3L3 27.3" stroke="#fff" stroke-width="2.2"/></svg>
<svg class="b" style="left:1220px;top:512px" width="48" height="48" viewBox="0 0 48 48"><circle cx="24.15" cy="23.9" r="22.4" fill="#cfcfcf"/><circle cx="24.15" cy="23.9" r="21.7" fill="#fff"/><path d="M23.9 5.1A18.85 18.85 0 0 0 23.9 42.8Z" fill="#02609a"/><g fill="#02609a"><rect x="23.9" y="16.1" width="8.1" height="3.2" rx="1"/><rect x="23.9" y="22.45" width="11.1" height="3.2" rx="1"/><rect x="23.9" y="28.65" width="8.1" height="3.2" rx="1"/></g><g fill="#fff"><rect x="15.9" y="16.1" width="8" height="3.2" rx="1"/><rect x="12.9" y="22.45" width="11" height="3.2" rx="1"/><rect x="15.9" y="28.65" width="8" height="3.2" rx="1"/></g></svg>
<span class="t" style="left:1312.07px;top:521.15px;font-size:35.50px;line-height:35.50px;transform:scaleX(0.9345);color:#fff;-webkit-text-stroke:0.8px #434343;">OMS</span>
<div class="b" style="left:1200px;top:600px;width:300px;height:44.2px;overflow:hidden"><span class="t" style="left:12.94px;top:16.18px;font-size:30.50px;line-height:30.50px;transform:scaleX(1.0281);color:#1e1e1e;font-weight:bold;">Item Markup</span></div>
<span class="t" style="left:1649.01px;top:689.45px;font-size:29.00px;line-height:29.00px;transform:scaleX(0.9875);color:#777;">%</span>
<span class="t" style="left:1212.99px;top:764.40px;font-size:30.00px;line-height:30.00px;transform:scaleX(1.0033);color:#181818;-webkit-text-stroke:0.35px #fff;">Markup on all selected items</span>
<span class="t" style="left:1262.81px;top:904.31px;font-size:30.00px;line-height:30.00px;transform:scaleX(0.8941);color:#02609a;-webkit-text-stroke:0.35px #ededed;">CANCEL</span>
<span class="t" style="left:1541.50px;top:904.31px;font-size:30.00px;line-height:30.00px;transform:scaleX(0.8573);color:#f4f4f4;-webkit-text-stroke:0.35px #cbcbcb;">APPLY</span>
</div>
</body></html>
